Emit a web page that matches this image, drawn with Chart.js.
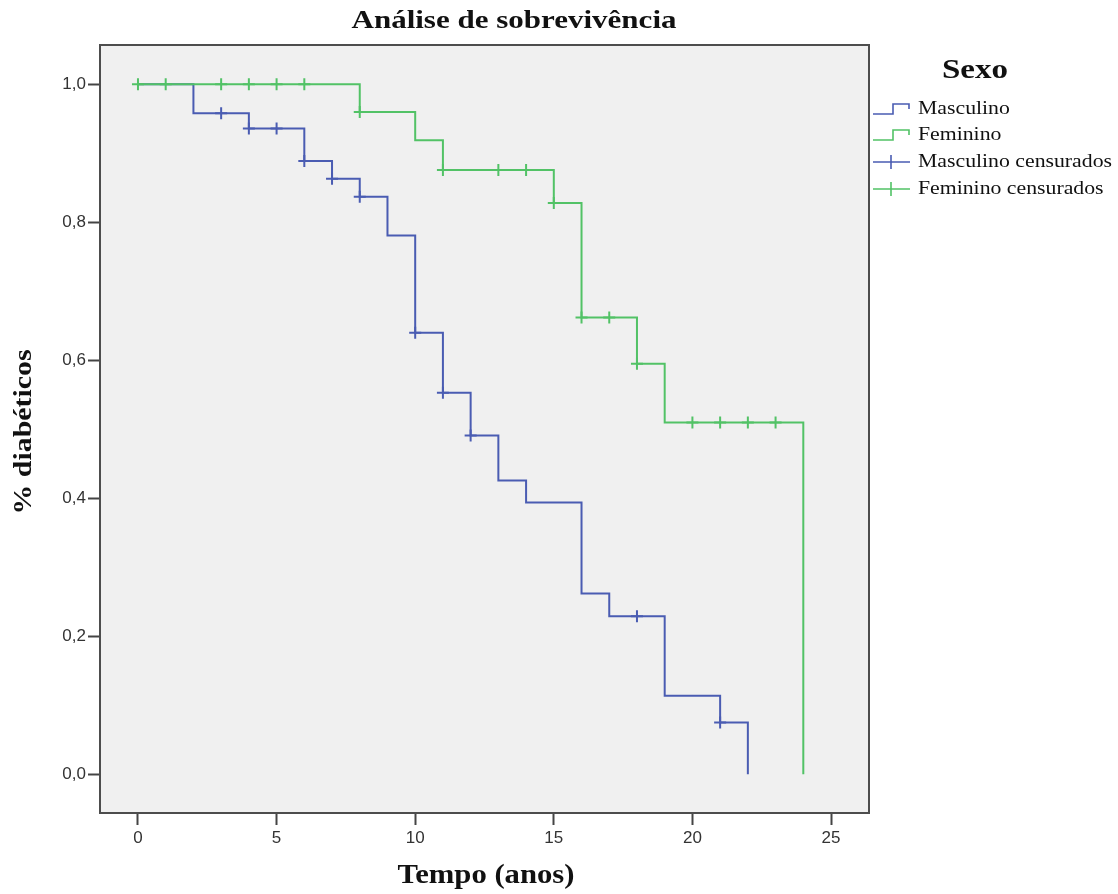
<!DOCTYPE html>
<html>
<head>
<meta charset="utf-8">
<title>Análise de sobrevivência</title>
<script src="https://cdn.jsdelivr.net/npm/chart.js@4/dist/chart.umd.min.js"></script>
<style>
    html, body { margin: 0; padding: 0; background: #fff; }
    #wrap { width: 1118px; height: 894px; position: relative; }
</style>
</head>
<body>
<div id="wrap"><canvas id="km"></canvas></div>
<script>
// Curvas de Kaplan-Meier
const mascTimes = [0, 2, 4, 6, 7, 8, 9, 10, 11, 12, 13, 14, 16, 17, 19, 21, 22];
const mascSurv  = [1.0, 0.958, 0.936, 0.889, 0.863, 0.837, 0.781, 0.640, 0.553, 0.491, 0.426, 0.394, 0.262, 0.229, 0.114, 0.075, 0.0];

const femTimes = [0, 8, 10, 11, 15, 16, 18, 19, 24];
const femSurv  = [1.0, 0.960, 0.919, 0.876, 0.828, 0.662, 0.595, 0.510, 0.0];

// Casos censurados
const mascCensTimes = [3, 4, 5, 6, 7, 8, 10, 11, 12, 18, 21];
const mascCensSurv  = [0.958, 0.936, 0.936, 0.889, 0.863, 0.837, 0.640, 0.553, 0.491, 0.229, 0.075];

const femCensTimes = [0, 1, 3, 4, 5, 6, 8, 11, 13, 14, 15, 16, 17, 18, 20, 21, 22, 23];
const femCensSurv  = [1.0, 1.0, 1.0, 1.0, 1.0, 1.0, 0.960, 0.876, 0.876, 0.876, 0.828, 0.662, 0.662, 0.595, 0.510, 0.510, 0.510, 0.510];

const xTicks = [0, 5, 10, 15, 20, 25];
const yTicks = [0.0, 0.2, 0.4, 0.6, 0.8, 1.0];

const chartTitle = 'Análise de sobrevivência';
const xTitle = 'Tempo (anos)';
const yTitle = '% diabéticos';
const legendTitle = 'Sexo';
const legendLabels = ['Masculino', 'Feminino', 'Masculino censurados', 'Feminino censurados'];

const BLUE = '#4a5cb2';
const GREEN = '#52c266';
const SERIF = '"Liberation Serif", "Times New Roman", serif';

const toPoints = (xs, ys) => xs.map((x, i) => ({ x: x, y: ys[i] }));

// draw text squeezed/stretched to a given width
function fitText(ctx, text, cx, cy, font, width, vertical) {
    ctx.save();
    ctx.font = font;
    const w = ctx.measureText(text).width;
    ctx.translate(cx, cy);
    if (vertical) ctx.rotate(-Math.PI / 2);
    ctx.scale(width / w, 1);
    ctx.textAlign = 'center';
    ctx.textBaseline = 'middle';
    ctx.fillText(text, 0, 0);
    ctx.restore();
}

const frame = {
    id: 'frame',
    beforeDraw(chart) {
        const { ctx, chartArea: a } = chart;
        ctx.save();
        ctx.fillStyle = '#ffffff';
        ctx.fillRect(0, 0, chart.width, chart.height);
        ctx.fillStyle = '#f0f0f0';
        ctx.fillRect(a.left, a.top, a.right - a.left, a.bottom - a.top);
        ctx.restore();
    },
    beforeDatasetsDraw(chart) {
        const { ctx, chartArea: a } = chart;
        ctx.save();
        ctx.strokeStyle = '#4d4d4d';
        ctx.lineWidth = 2;
        ctx.strokeRect(a.left, a.top, a.right - a.left, a.bottom - a.top);
        ctx.restore();
    },
    afterDraw(chart) {
        const ctx = chart.ctx;
        ctx.save();
        ctx.fillStyle = '#111';
        fitText(ctx, chartTitle, 514, 21, 'bold 26px ' + SERIF, 325);
        fitText(ctx, xTitle, 486, 876, 'bold 27px ' + SERIF, 177);
        fitText(ctx, yTitle, 24, 432, 'bold 26px ' + SERIF, 165, true);
        fitText(ctx, legendTitle, 975, 71, 'bold 27px ' + SERIF, 66);

        // legend
        const rows = [109, 135, 162, 189];
        const colors = [BLUE, GREEN, BLUE, GREEN];
        ctx.font = '19px ' + SERIF;
        const sx = 194 / ctx.measureText(legendLabels[2]).width;
        legendLabels.forEach((lab, i) => {
            const y = rows[i];
            ctx.strokeStyle = colors[i];
            ctx.lineWidth = 1.6;
            ctx.beginPath();
            if (i < 2) {
                ctx.moveTo(873, y + 5);
                ctx.lineTo(893, y + 5);
                ctx.lineTo(893, y - 5);
                ctx.lineTo(909, y - 5);
                ctx.lineTo(909, y);
            } else {
                ctx.moveTo(873, y);
                ctx.lineTo(910, y);
                ctx.moveTo(891, y - 7);
                ctx.lineTo(891, y + 7);
            }
            ctx.stroke();
            ctx.save();
            ctx.translate(918, y);
            ctx.scale(sx, 1);
            ctx.fillStyle = '#111';
            ctx.textAlign = 'left';
            ctx.textBaseline = 'middle';
            ctx.fillText(lab, 0, 0);
            ctx.restore();
        });
        ctx.restore();
    }
};

const ctx = document.getElementById('km').getContext('2d');
new Chart(ctx, {
    type: 'line',
    data: {
        datasets: [
            {
                label: legendLabels[0],
                data: toPoints(mascTimes, mascSurv),
                stepped: 'before',
                borderColor: BLUE,
                borderWidth: 2,
                pointRadius: 0,
                fill: false,
                order: 2
            },
            {
                label: legendLabels[1],
                data: toPoints(femTimes, femSurv),
                stepped: 'before',
                borderColor: GREEN,
                borderWidth: 2,
                pointRadius: 0,
                fill: false,
                order: 1
            },
            {
                label: legendLabels[2],
                data: toPoints(mascCensTimes, mascCensSurv),
                showLine: false,
                pointStyle: 'cross',
                pointRadius: 6,
                pointBorderWidth: 2,
                borderColor: BLUE,
                order: 0
            },
            {
                label: legendLabels[3],
                data: toPoints(femCensTimes, femCensSurv),
                showLine: false,
                pointStyle: 'cross',
                pointRadius: 6,
                pointBorderWidth: 2,
                borderColor: GREEN,
                order: 0
            }
        ]
    },
    options: {
        responsive: true,
        maintainAspectRatio: false,
        animation: false,
        layout: {
            padding: { left: 0, top: 45, right: 249, bottom: 0 }
        },
        plugins: {
            legend: { display: false },
            title: { display: false },
            tooltip: { enabled: false }
        },
        scales: {
            x: {
                type: 'linear',
                min: -1.37,
                max: 26.37,
                afterFit(scale) { scale.height = 81; },
                afterBuildTicks(scale) { scale.ticks = xTicks.map(v => ({ value: v })); },
                ticks: {
                    padding: 3,
                    color: '#333',
                    font: { family: '"Liberation Sans", Arial, sans-serif', size: 17 },
                    callback: v => String(v)
                },
                grid: {
                    drawOnChartArea: false,
                    drawTicks: true,
                    tickLength: 12,
                    tickColor: '#444',
                    tickWidth: 2
                },
                border: { display: false }
            },
            y: {
                type: 'linear',
                min: -0.056,
                max: 1.057,
                afterFit(scale) { scale.width = 100; },
                afterBuildTicks(scale) { scale.ticks = yTicks.map(v => ({ value: v })); },
                ticks: {
                    padding: 2,
                    color: '#333',
                    font: { family: '"Liberation Sans", Arial, sans-serif', size: 17 },
                    callback: v => v.toFixed(1).replace('.', ',')
                },
                grid: {
                    drawOnChartArea: false,
                    drawTicks: true,
                    tickLength: 12,
                    tickColor: '#444',
                    tickWidth: 2
                },
                border: { display: false }
            }
        }
    },
    plugins: [frame]
});
</script>
</body>
</html>
